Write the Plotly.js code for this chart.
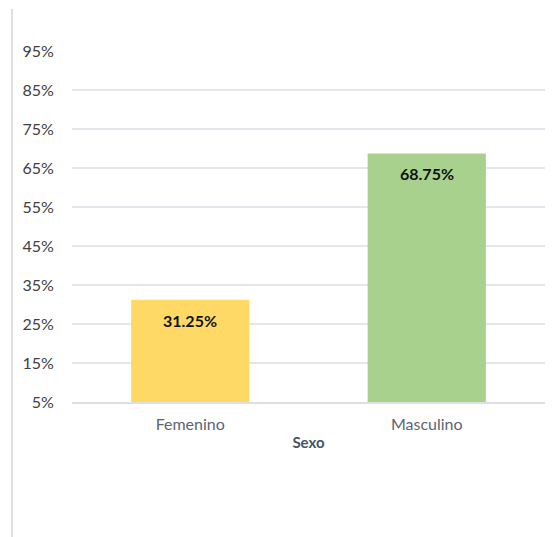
<!DOCTYPE html>
<html><head><meta charset="utf-8">
<script src="https://cdn.plot.ly/plotly-3.0.1.min.js"></script>
<style>html,body{margin:0;padding:0;background:#fff;}#chart{width:556px;height:537px;}</style>
</head><body><div id="chart"></div>
<script>
const categories = ["Femenino", "Masculino"];
const values = [31.25, 68.75];
const labels = ["31.25%", "68.75%"];
const barColors = ["#FFD966", "#A9D18E"];
const tickVals = [5, 15, 25, 35, 45, 55, 65, 75, 85, 95];
const tickText = ["5%", "15%", "25%", "35%", "45%", "55%", "65%", "75%", "85%", "95%"];

const FONT = "Lato, 'Open Sans', sans-serif";

const trace = {
  type: "bar",
  x: categories,
  y: values.map(v => v - 5),
  base: 5,
  marker: {color: barColors},
  hoverinfo: "none"
};

const annotations = categories.map((c, i) => ({
  x: c, y: values[i], xref: "x", yref: "y",
  text: "<b>" + labels[i] + "</b>",
  showarrow: false, yanchor: "top", yshift: -9,
  font: {family: FONT, size: 16, color: "#111111"}
}));

const layout = {
  width: 556, height: 537,
  margin: {l: 72, r: 11, t: 51, b: 135},
  paper_bgcolor: "#ffffff", plot_bgcolor: "#ffffff",
  showlegend: false,
  bargap: 0.5,
  font: {family: FONT},
  xaxis: {
    type: "category",
    tickfont: {family: FONT, size: 16, color: "#5A6474"},
    ticks: "outside", ticklen: 7, tickcolor: "rgba(0,0,0,0)",
    showline: true, linecolor: "#DDE1E5", linewidth: 2,
    showgrid: false, zeroline: false,
    title: {text: "<b>Sexo</b>", font: {family: FONT, size: 15, color: "#44546A"}, standoff: 5}
  },
  yaxis: {
    range: [5, 95],
    tickvals: tickVals, ticktext: tickText,
    tickfont: {family: FONT, size: 16, color: "#404040"},
    showgrid: true, gridcolor: "#E3E6EA", gridwidth: 1.5,
    zeroline: false, showline: false, ticks: "outside", ticklen: 14, tickcolor: "rgba(0,0,0,0)"
  },
  annotations: annotations,
  shapes: [{
    type: "line", xref: "paper", yref: "paper",
    x0: -0.1268, x1: -0.1268, y0: -0.385, y1: 1.1197,
    line: {color: "#DDE1E5", width: 2}
  }]
};

Plotly.newPlot("chart", [trace], layout, {displayModeBar: false, staticPlot: true});
</script></body></html>
